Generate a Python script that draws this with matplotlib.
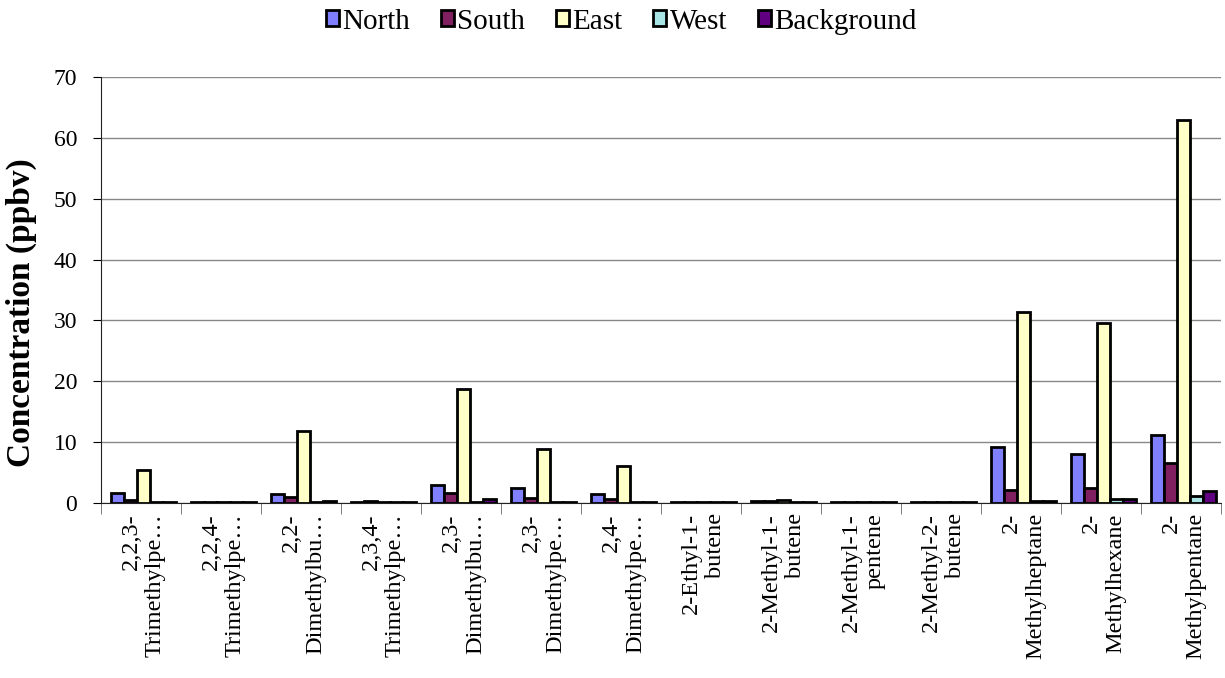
import numpy as np
import matplotlib.pyplot as plt
from matplotlib.ticker import FixedLocator

categories = ["2,2,3-\nTrimethylpe…", "2,2,4-\nTrimethylpe…", "2,2-\nDimethylbu…",
              "2,3,4-\nTrimethylpe…", "2,3-\nDimethylbu…", "2,3-\nDimethylpe…",
              "2,4-\nDimethylpe…", "2-Ethyl-1-\nbutene", "2-Methyl-1-\nbutene",
              "2-Methyl-1-\npentene", "2-Methyl-2-\nbutene", "2-\nMethylheptane",
              "2-\nMethylhexane", "2-\nMethylpentane"]

north = [1.6, 0.15, 1.5, 0.1, 2.9, 2.5, 1.4, 0.2, 0.3, 0.2, 0.1, 9.2, 8.1, 11.2]
south = [0.5, 0.15, 1.0, 0.3, 1.7, 0.9, 0.6, 0.2, 0.3, 0.2, 0.1, 2.1, 2.5, 6.5]
east = [5.4, 0.15, 11.8, 0.1, 18.7, 8.8, 6.0, 0.2, 0.5, 0.2, 0.2, 31.4, 29.5, 62.9]
west = [0.1, 0.15, 0.2, 0.1, 0.2, 0.1, 0.1, 0.2, 0.2, 0.2, 0.1, 0.4, 0.6, 1.1]
background = [0.1, 0.15, 0.3, 0.1, 0.6, 0.2, 0.1, 0.2, 0.2, 0.2, 0.1, 0.4, 0.7, 2.0]

series = [("North", north, "#8080FF"), ("South", south, "#802060"),
          ("East", east, "#FFFFC8"), ("West", west, "#A8E4E4"),
          ("Background", background, "#600080")]

plt.rcParams["font.family"] = ["Liberation Serif", "DejaVu Serif"]

fig = plt.figure(figsize=(12.25, 6.78), dpi=100)
ax = fig.add_axes([0.0824, 0.2581, 0.9143, 0.6283])

x = np.arange(len(categories))
w = 0.1625
for i, (name, vals, col) in enumerate(series):
    ax.bar(x + (i - 2) * w + 0.03, vals, w, color=col, edgecolor="black", linewidth=2,
           label=name, zorder=3)

ax.set_xlim(-0.5, len(categories) - 0.5)
ax.set_ylim(0, 70)
ax.set_yticks(range(0, 71, 10))
ax.grid(axis="y", color="#888888", linewidth=1, zorder=0)
ax.tick_params(axis="y", labelsize=17, length=6, direction="out", pad=11)

ax.set_xticks(x)
ax.set_xticklabels([])
ax.xaxis.set_minor_locator(FixedLocator(np.arange(-0.5, len(categories), 1)))
ax.tick_params(axis="x", which="major", length=0)
ax.tick_params(axis="x", which="minor", length=8, color="#666666")
for xi, lab in zip(x, categories):
    ax.text(xi + 0.03, -0.024, lab, transform=ax.get_xaxis_transform(), rotation=90,
            ha="center", va="top", multialignment="right", fontsize=17.5,
            linespacing=1.2)

for s in ["top", "right"]:
    ax.spines[s].set_visible(False)
ax.spines["left"].set_color("#222222")
ax.spines["bottom"].set_color("#222222")

ax.set_ylabel("Concentration (ppbv)", fontsize=24, fontweight="bold")
ax.yaxis.set_label_coords(-0.057, 0.446)

fig.legend(loc="center", bbox_to_anchor=(0.507, 0.968), ncol=5, fontsize=21,
           frameon=False, handlelength=0.45, handleheight=0.45, handletextpad=0.12,
           columnspacing=1.05, borderpad=0)

fig.savefig("out.png", dpi=100)
